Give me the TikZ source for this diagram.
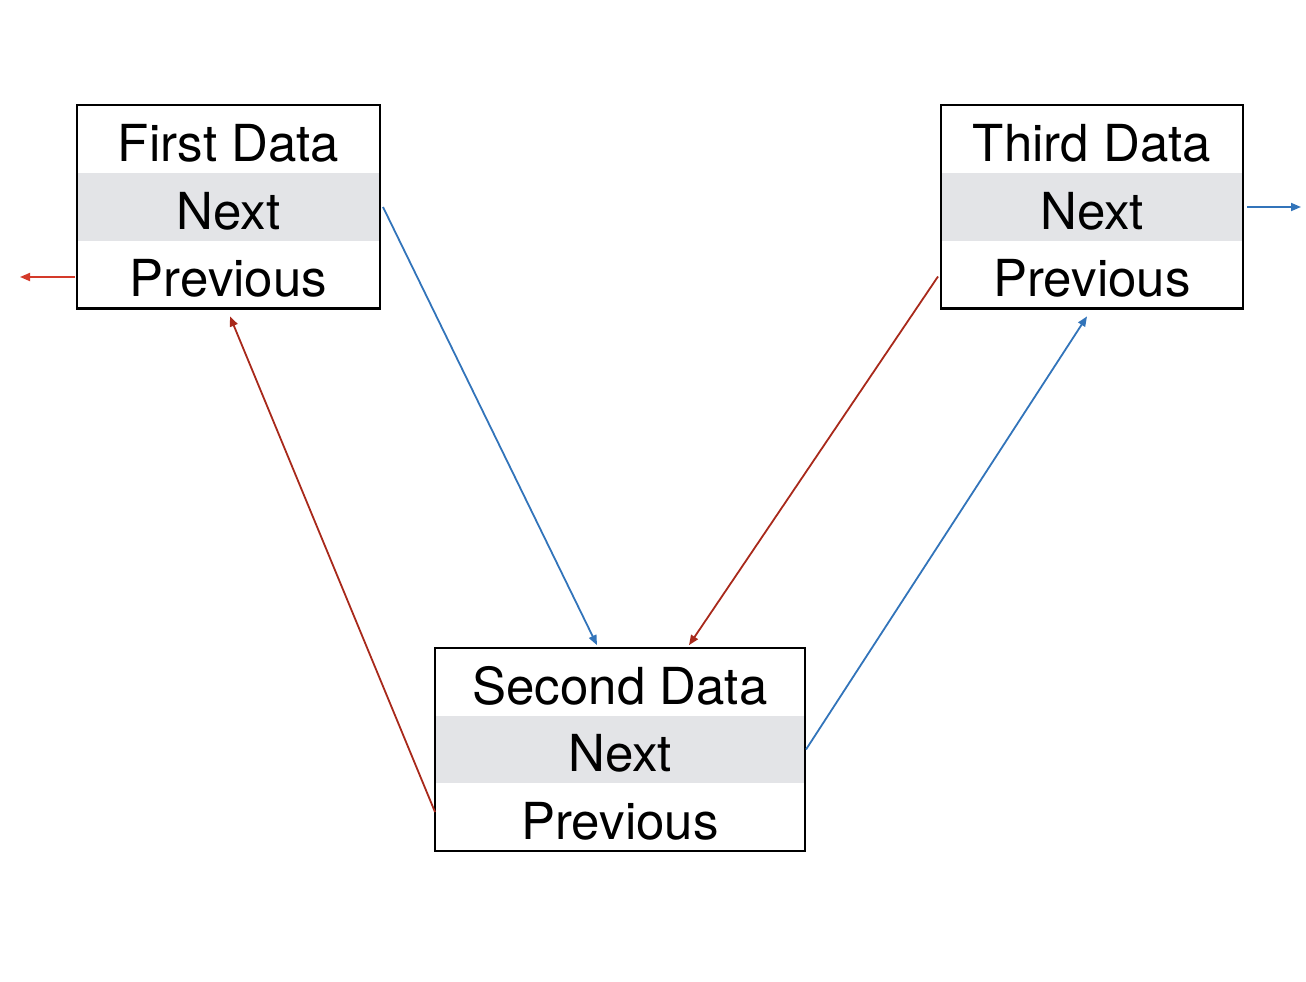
\documentclass[tikz,border=0pt]{standalone}
\usepackage{fontspec}
\setmainfont{TeX Gyre Heros}
\usetikzlibrary{calc,arrows.meta}
\definecolor{rowgray}{HTML}{E3E4E7}
\definecolor{linkblue}{HTML}{3274BA}
\definecolor{linkred}{HTML}{A8291B}
\definecolor{brightred}{HTML}{D43A2A}
\tikzset{
  cell/.style={minimum height=67.7pt, inner sep=0pt, outer sep=0pt,
    font=\fontsize{51}{51}\selectfont, text height=44pt, text depth=0pt},
  graycell/.style={cell, fill=rowgray},
  frame/.style={draw=black, line width=2.5pt},
  link/.style={line width=1.8pt, -{Triangle[length=10pt,width=8pt]}},
  nextlink/.style={link, linkblue},
  prevlink/.style={link, linkred},
}
\begin{document}
\begin{tikzpicture}[x=1pt,y=-1pt]
\useasboundingbox (0,0) rectangle (1306,982);
% First
\node[cell, minimum width=303pt] (a1) at (228.5,139) {First Data};
\node[graycell, minimum width=303pt] (a2) at (228.5,207) {Next};
\node[cell, minimum width=303pt] (a3) at (228.5,274.5) {Previous};
\draw[frame] (a1.north west) rectangle (a3.south east);
% Second
\node[cell, minimum width=370pt] (b1) at (620,682) {Second Data};
\node[graycell, minimum width=370pt] (b2) at (620,749.5) {Next};
\node[cell, minimum width=370pt] (b3) at (620,817) {Previous};
\draw[frame] (b1.north west) rectangle (b3.south east);
% Third
\node[cell, minimum width=302pt] (c1) at (1092,139) {Third Data};
\node[graycell, minimum width=302pt] (c2) at (1092,207) {Next};
\node[cell, minimum width=302pt] (c3) at (1092,274.5) {Previous};
\draw[frame] (c1.north west) rectangle (c3.south east);
% free ends
\coordinate (aprev) at (20,277);
\coordinate (cnext) at (1301,207);
% links
\draw[nextlink] ($(a2.east)+(3,0)$) -- ($(b1.north)+(-23,-3)$);
\draw[prevlink] ($(c3.west)+(-3,2)$) -- ($(b1.north)+(69,-3)$);
\draw[nextlink] ($(b2.east)+(1,0)$) -- ($(c3.south)+(-5,8)$);
\draw[prevlink] ($(b3.west)+(0,-5)$) -- ($(a3.south)+(1.5,8)$);
\draw[link, brightred] ($(a3.west)+(-2,2.5)$) -- (aprev);
\draw[nextlink] ($(c2.east)+(4,0)$) -- (cnext);
\end{tikzpicture}
\end{document}
